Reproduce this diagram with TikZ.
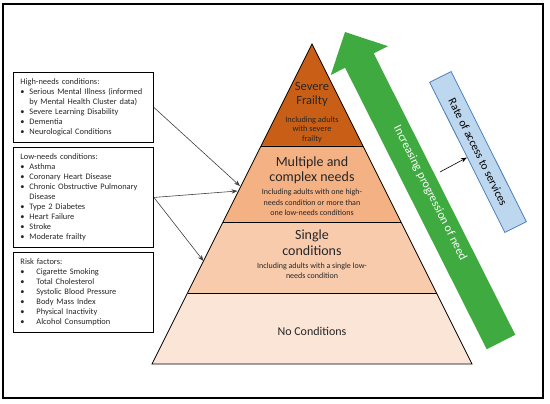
\documentclass[tikz,border=0pt]{standalone}
\usepackage{fontspec}
\setmainfont{Carlito}
\usepackage{xcolor}
\usetikzlibrary{arrows.meta}

\definecolor{frailty}{HTML}{C95F17}
\definecolor{multiple}{HTML}{F4B183}
\definecolor{single}{HTML}{F8CBAD}
\definecolor{nocond}{HTML}{FBE5D6}
\definecolor{needgreen}{HTML}{3FAA3F}
\definecolor{ratefill}{HTML}{BDD7EE}
\definecolor{rateline}{HTML}{4A7EBB}
\definecolor{txt}{HTML}{262626}

% bullet line with hanging indent
\newcommand{\bul}[2][9pt]{\par\hangindent=#1\hangafter=1\noindent\makebox[#1][l]{\textbullet}#2}

\tikzset{
  condbox/.style={draw, line width=0.9pt, anchor=north west, text width=126pt,
    inner xsep=7pt, inner ysep=4pt, align=left, text=txt,
    font=\fontsize{8.4}{10}\selectfont},
  tiertitle/.style={align=center, text=txt, font=\fontsize{14}{16}\selectfont},
  tiernote/.style={align=center, text=txt, font=\fontsize{8}{10.5}\selectfont},
  tier/.style={draw, line width=0.8pt},
  feed/.style={draw=black!75, line width=0.6pt, -{Stealth[length=6pt,width=4.5pt]}}
}

\begin{document}
\begin{tikzpicture}[x=1pt, y=-1pt]
\useasboundingbox (0,0) rectangle (550,404);
\draw[line width=1.6pt] (3,4) rectangle (543,398);

% Condition boxes
\node[condbox, minimum height=70pt] (high) at (13,72) {%
High-needs conditions:
\bul{Serious Mental Illness (informed\hfil\break by Mental Health Cluster data)}
\bul{Severe Learning Disability}
\bul{Dementia}
\bul{Neurological Conditions}};

\node[condbox, minimum height=100pt] (low) at (13,147) {%
Low-needs conditions:
\bul{Asthma}
\bul{Coronary Heart Disease}
\bul{Chronic Obstructive Pulmonary\hfil\break Disease}
\bul{Type 2 Diabetes}
\bul{Heart Failure}
\bul{Stroke}
\bul{Moderate frailty}};

\node[condbox, minimum height=80pt] (risk) at (13,252) {%
Risk factors:
\bul[16pt]{Cigarette Smoking}
\bul[16pt]{Total Cholesterol}
\bul[16pt]{Systolic Blood Pressure}
\bul[16pt]{Body Mass Index}
\bul[16pt]{Physical Inactivity}
\bul[16pt]{Alcohol Consumption}};

% Pyramid
\fill[frailty] (312,44) -- (363,146) -- (261,146) -- cycle;
\fill[multiple] (261,146) -- (363,146) -- (401,222) -- (223,222) -- cycle;
\fill[single] (223,222) -- (401,222) -- (436.5,293) -- (187.5,293) -- cycle;
\fill[nocond] (187.5,293) -- (436.5,293) -- (472,364) -- (152,364) -- cycle;
\draw[tier] (312,44) -- (472,364) -- (152,364) -- cycle;
\draw[tier] (261,146) -- (363,146);
\draw[tier] (223,222) -- (401,222);
\draw[tier] (187.5,293) -- (436.5,293);

\node[tiertitle, font=\fontsize{12.5}{14}\selectfont] (sevT) at (312,94) {Severe\\Frailty};
\node[tiernote, font=\fontsize{8.3}{9.5}\selectfont] (sevN) at (312,129.5) {Including adults\\with severe\\frailty};
\node[tiertitle, font=\fontsize{14}{15}\selectfont] (mulT) at (312,170.5) {Multiple and\\complex needs};
\node[tiernote] (mulN) at (312,202.5) {Including adults with one high-\\needs condition or more than\\one low-needs conditions};
\node[tiertitle] (sinT) at (312,243) {Single\\conditions};
\node[tiernote] (sinN) at (312,271) {Including adults with a single low-\\needs condition};
\node[tiertitle, font=\fontsize{12}{14}\selectfont] (noT) at (312,331) {No Conditions};

% Arrows into the pyramid
\coordinate (hitA) at (240,186);
\coordinate (hitB) at (237.5,191);
\coordinate (hitC) at (203.5,261);
\draw[feed] (high.east) -- (hitA);
\draw[feed] (low.east) -- (hitB);
\draw[feed] (low.east) -- (hitC);

% Progression arrow
\fill[needgreen] (515.3,334.8) -- (373.7,53.4) -- (388.0,46.2) -- (345,32)
  -- (330.8,75.0) -- (345.1,67.8) -- (486.7,349.2) -- cycle;
\node[text=white, rotate=-63.3, font=\fontsize{12}{14}\selectfont] (need) at (430,193)
  {Increasing progression of need};

% Access box
\node[draw=rateline, fill=ratefill, line width=0.8pt, rotate=-63.4,
  minimum width=168pt, minimum height=24pt, inner sep=1pt, text=black,
  font=\fontsize{11.5}{13}\selectfont] (rate) at (478,152) {Rate of access to services};
\coordinate (acc) at (440,172);
\draw[feed, draw=black] (acc) -- (rate.south);
\end{tikzpicture}
\end{document}
